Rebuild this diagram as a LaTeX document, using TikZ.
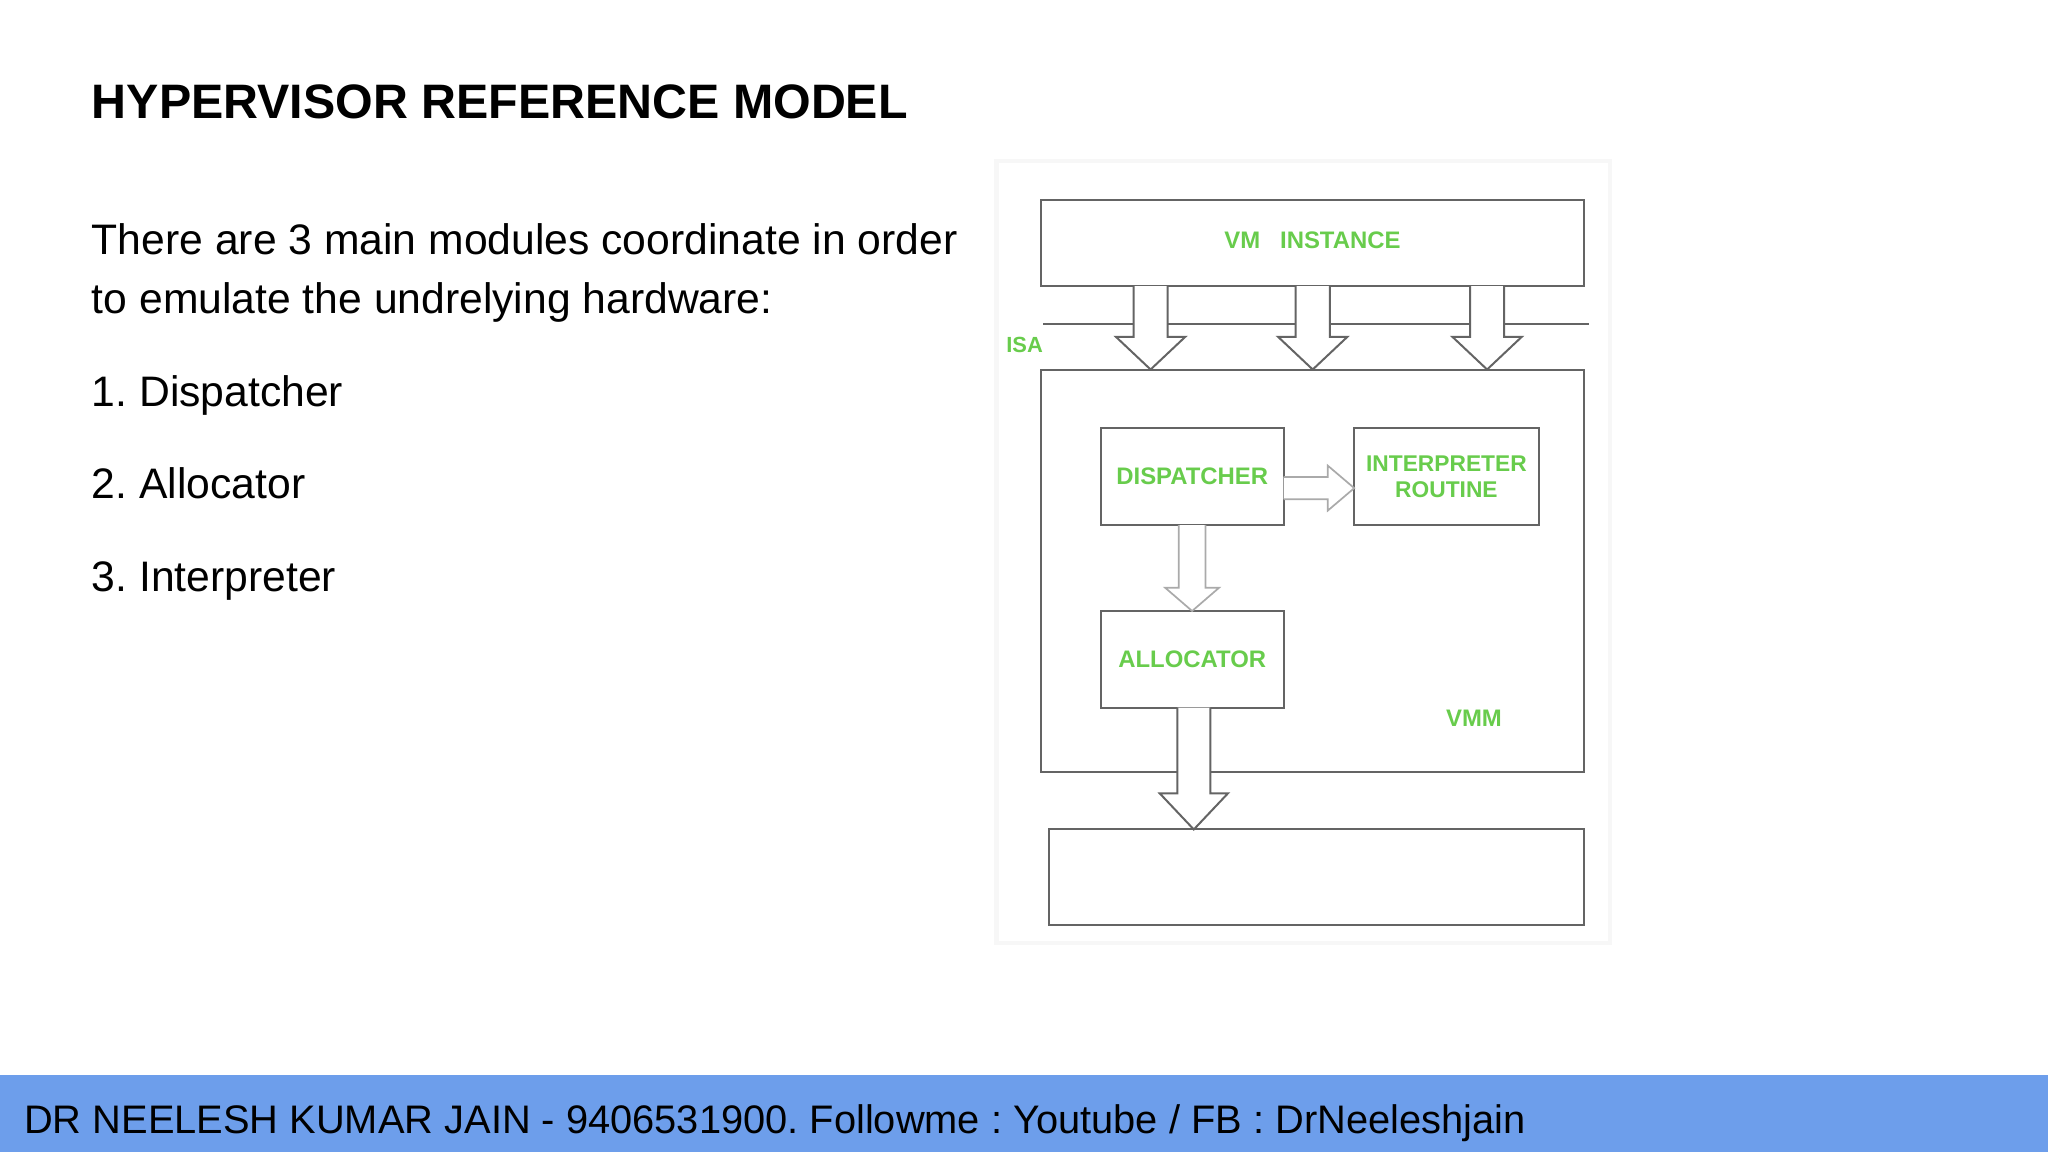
\documentclass[tikz,border=0pt]{standalone}
\usepackage{fontspec}
\setmainfont{Liberation Sans}
\usetikzlibrary{calc}
\definecolor{footerblue}{RGB}{109,158,235}
\definecolor{lbl}{RGB}{104,204,76}
\definecolor{edge}{RGB}{100,100,100}
\definecolor{faint}{RGB}{170,170,170}
\newcommand\blkdown[7]{%
  \draw[#1] let \p1=(#3.south), \p2=(#4.north) in
    ({#2pt-#5pt},\y1) -- ({#2pt-#5pt},{\y2+#7pt}) -- ({#2pt-#6pt},{\y2+#7pt}) --
    (#2pt,\y2) -- ({#2pt+#6pt},{\y2+#7pt}) -- ({#2pt+#5pt},{\y2+#7pt}) -- ({#2pt+#5pt},\y1);}
\newcommand\blkright[7]{%
  \draw[#1] let \p1=(#3.east), \p2=(#4.west) in
    (\x1,{-#2pt+#5pt}) -- ({\x2-#7pt},{-#2pt+#5pt}) -- ({\x2-#7pt},{-#2pt+#6pt}) --
    (\x2,{-#2pt}) -- ({\x2-#7pt},{-#2pt-#6pt}) -- ({\x2-#7pt},{-#2pt-#5pt}) -- (\x1,{-#2pt-#5pt});}
\frenchspacing
\begin{document}
\begin{tikzpicture}[x=1pt,y=-1pt,
  box/.style={draw=edge, line width=0.7pt, inner sep=0pt, outer sep=0pt, anchor=north west, fill=white},
  lbltext/.style={text=lbl, font=\fontsize{8.4}{9.4}\selectfont\bfseries},
  blk/.style={draw=edge, line width=0.7pt, fill=white},
  blkfaint/.style={draw=faint, line width=0.6pt, fill=white},
  body/.style={anchor=base west, inner sep=0pt, font=\fontsize{15}{18}\selectfont},
]
\useasboundingbox (0,0) rectangle (720,405);
\fill[white] (0,0) rectangle (720,405);

% left text
\node[body, font=\fontsize{17}{20}\selectfont\bfseries] (title) at (32.1,41.8) {HYPERVISOR REFERENCE MODEL};
\node[body] (l1) at (32.1,89.5) {There are 3 main modules coordinate in order};
\node[body] (l2) at (32.1,110.2) {to emulate the undrelying hardware:};
\node[body] (i1) at (32.1,142.8) {1. Dispatcher};
\node[body] (i2) at (32.1,175.4) {2. Allocator};
\node[body] (i3) at (32.1,208.0) {3. Interpreter};

% footer
\fill[footerblue] (0,377.9) rectangle (720,405);
\node[anchor=base west, inner sep=0pt, font=\fontsize{14}{16}\selectfont] (foot) at (8.3,398.5)
  {DR NEELESH KUMAR JAIN - 9406531900. Followme : Youtube / FB : DrNeeleshjain};

% diagram frame (faint image border)
\draw[draw=black!3, line width=1.5pt] (350.3,56.5) rectangle (566.1,331.5);

% boxes
\node[box, minimum width=191pt, minimum height=30.4pt, lbltext, text depth=0pt, text height=6.1pt, yshift=0pt] (vm) at (365.9,70.2) {\raisebox{1pt}{VM\hspace{7pt}INSTANCE}};
\coordinate (isaL) at (366.8,113.9);
\coordinate (isaR) at (558.8,113.9);
\draw[edge, line width=0.7pt] (isaL) -- (isaR);
\node[lbltext, font=\fontsize{7.7}{9}\selectfont\bfseries] (isa) at (360.2,121.4) {ISA};
\node[box, minimum width=191pt, minimum height=141.4pt] (vmm) at (365.9,129.9) {};
\node[lbltext] (vmmlbl) at (518.2,252.4) {VMM};
\node[box, minimum width=64.3pt, minimum height=34pt, lbltext] (disp) at (387.0,150.6) {DISPATCHER};
\node[box, minimum width=64.8pt, minimum height=34pt, lbltext, align=center, font=\fontsize{8}{9.4}\selectfont\bfseries] (interp) at (476.1,150.6) {INTERPRETER\\ROUTINE};
\node[box, minimum width=64.3pt, minimum height=34pt, lbltext] (alloc) at (387.0,214.8) {\raisebox{-1.5pt}{ALLOCATOR}};
\node[box, minimum width=188.2pt, minimum height=33.5pt] (hw) at (368.7,291.6) {};

% block arrows
\blkdown{blk}{404.5}{vm}{vmm}{6}{12.2}{11.5}
\blkdown{blk}{461.5}{vm}{vmm}{6}{12.2}{11.5}
\blkdown{blk}{522.8}{vm}{vmm}{6}{12.2}{11.5}
\blkright{blkfaint}{171.6}{disp}{interp}{3.9}{7.9}{9.3}
\blkdown{blkfaint}{419.1}{disp}{alloc}{4.7}{9.5}{8.2}
\blkdown{blk}{419.7}{alloc}{hw}{5.8}{12}{12.7}
\end{tikzpicture}
\end{document}
